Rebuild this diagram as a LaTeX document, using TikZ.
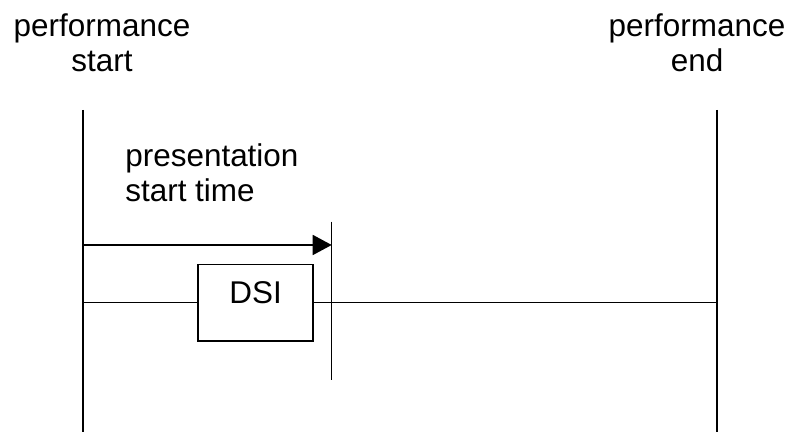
\documentclass[tikz,border=0pt]{standalone}
\usepackage{fontspec}
\setmainfont{Liberation Sans}
\usetikzlibrary{arrows.meta}
\tikzset{
    thick line/.style={line width=1.15pt},
    thin line/.style={line width=0.95pt},
    lbl/.style={inner sep=0pt,anchor=base}
}
\begin{document}
\begin{tikzpicture}[font=\fontsize{17.9pt}{20.3pt}\selectfont]
        \useasboundingbox (0,0) rectangle (15.8,8.64);
        % performance lines
        \coordinate (pst) at (1.654,6.44);\coordinate (psb) at (1.654,0);
        \coordinate (pet) at (14.334,6.44);\coordinate (peb) at (14.334,0);
        \draw[thick line](pst) -- (psb);\draw[thick line](pet) -- (peb);
        \node[lbl,align=center] (pstart) at (2.04,7.206) {performance\\start};
        \node[lbl,align=center] (pend) at (13.94,7.206) {performance\\end};
        % presentation start time
        \node[lbl,align=left,anchor=base west] (pres) at (2.5,4.60) {presentation\\start time};
        \coordinate (pt) at (6.634,3.74);
        \coordinate (mt) at (6.634,4.206);\coordinate (mb) at (6.634,1.04);
        \draw[thin line,-{Triangle[length=0.38cm,width=0.4cm]}](pt -| pst) -- (pt);
        \draw[line width=0.8pt](mt) -- (mb);
        % DSI
        \node[draw,thin line,minimum width=2.3cm,minimum height=1.53cm,text depth=0.4cm] (dsi) at (5.113,2.587) {DSI};
        \draw[thin line](dsi.west -| pst) -- (dsi.west);\draw[thin line](dsi.east) -- (dsi.east -| pet);
    \end{tikzpicture}
\end{document}
